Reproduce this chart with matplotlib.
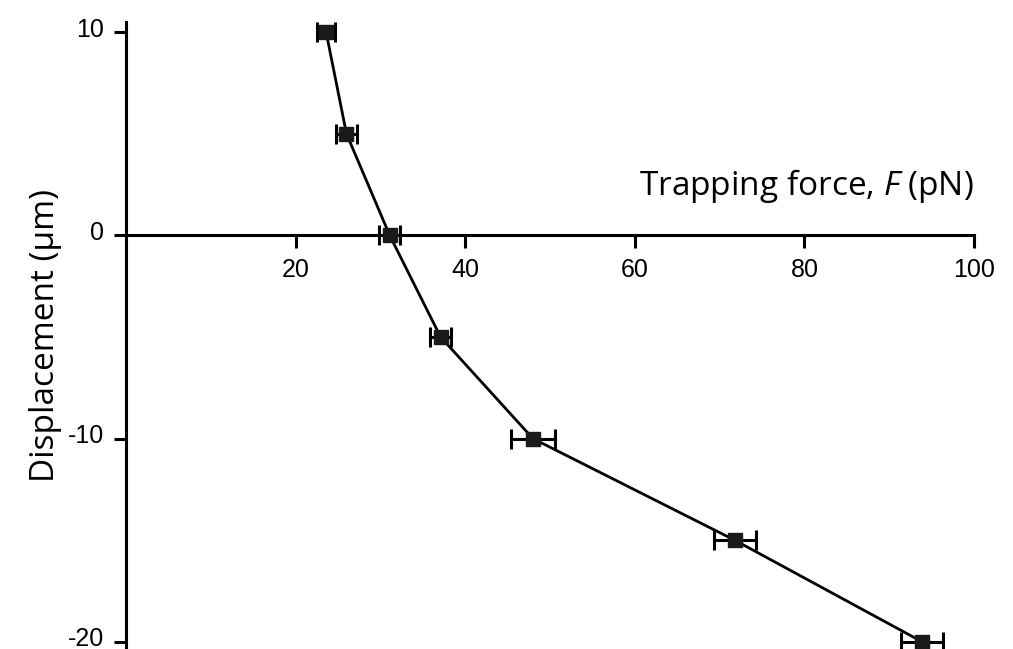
import numpy as np
import matplotlib.pyplot as plt
import matplotlib.transforms as mtransforms

plt.rcParams['axes.unicode_minus'] = False
plt.rcParams['mathtext.fontset'] = 'custom'
plt.rcParams['mathtext.rm'] = 'Open Sans'
plt.rcParams['mathtext.it'] = 'Open Sans:italic'

# DATOS ==========================================================
displacement = [10, 5, 0, -5, -10, -15, -20]          # um
force = [23.6, 26.0, 31.1, 37.1, 48.0, 71.8, 93.9]     # pN
force_err = [1.1, 1.2, 1.25, 1.2, 2.6, 2.5, 2.5]

x_ticks = [20, 40, 60, 80, 100]
y_ticks = [-20, -10, 0, 10]
y_ticklabels = ['-20', '-10', '0', '10']

# GRAFICO ========================================================
fig = plt.figure(figsize=(10.13, 6.49), dpi=100)
ax = fig.add_axes([126/1013, 0.0, (974-126)/1013, 1 - 22/649])

ax.errorbar(force, displacement, xerr=force_err, fmt='s-', color='black',
            mfc='#1a1a1a', mec='#1a1a1a', ms=9.5, lw=2.0, elinewidth=2.2,
            capsize=7, capthick=2.2, zorder=3, clip_on=False)

ax.set_xlim(0, 100)
ax.set_ylim(-20.35, 10.5)

ax.spines['left'].set_position(('data', 0))
ax.spines['bottom'].set_position(('data', 0))
ax.spines['top'].set_visible(False)
ax.spines['right'].set_visible(False)
for s in ['left', 'bottom']:
    ax.spines[s].set_linewidth(2.2)

ax.set_xticks(x_ticks)
ax.set_xticklabels([str(t) for t in x_ticks], fontfamily='Liberation Sans', fontsize=18)
ax.set_yticks(y_ticks)
ax.set_yticklabels(y_ticklabels, fontfamily='Liberation Sans', fontsize=18)
ax.tick_params(axis='both', direction='out', length=9, width=2.2, pad=7)

# las etiquetas del eje y quedan un poco mas arriba que el tick en el original
offset = mtransforms.ScaledTranslation(0, 5/100, fig.dpi_scale_trans)
for lab in ax.get_yticklabels():
    lab.set_transform(lab.get_transform() + offset)

ax.set_xlabel('Trapping force, $\\mathit{F}$ (pN)', fontfamily='Open Sans', fontsize=24)
ax.xaxis.set_label_coords(1.0, 0.769)
ax.xaxis.label.set_horizontalalignment('right')

ax.set_ylabel('Displacement (µm)', fontfamily='Open Sans', fontsize=24)
ax.yaxis.set_label_coords(-64/848, 0.5)

fig.savefig('out.png', dpi=100)
